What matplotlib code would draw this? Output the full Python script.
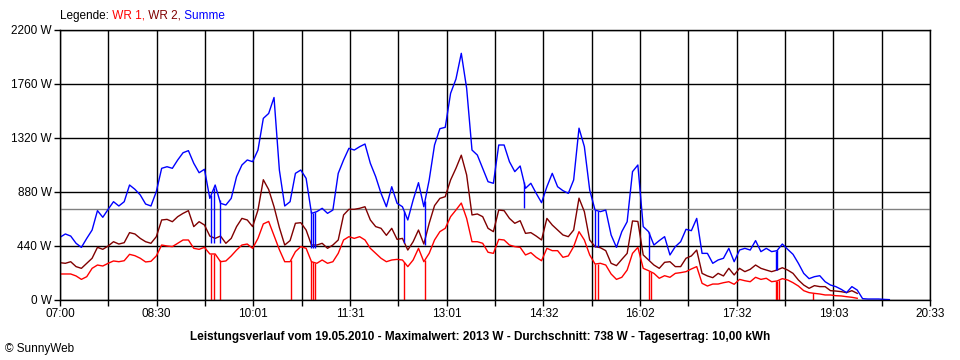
import numpy as np
import matplotlib
matplotlib.use("Agg")
import matplotlib.pyplot as plt

# 5-minute samples from 07:00, values in W
wr1 = [212, 212, 212, 196, 168, 190, 258, 285, 277, 299,
       318, 312, 320, 372, 361, 340, 310, 315, 359, 448,
       440, 435, 462, 489, 489, 421, 413, 429, 375, 375,
       312, 318, 359, 407,
       448, 456, 421, 502, 620, 640, 525, 410, 312, 312,
       394, 435, 421, 312, 299, 326, 299, 312, 380, 489,
       516, 502, 516, 489, 421, 380, 340, 312, 326, 331,
       326, 272, 326,
       421, 312, 380, 489, 557, 584, 679, 733, 790, 665,
       475, 475, 462, 389, 380, 494, 489, 448, 435, 429,
       367, 386, 348, 320, 421, 402, 402, 348, 359, 435,
       557, 489, 367,
       293, 299, 285, 212, 168, 185, 244, 380, 429, 258,
       239, 217, 177, 198, 185, 217, 223, 231, 253, 272,
       136, 114, 130, 130, 141, 149, 128, 168, 157, 149,
       185, 168, 177, 149,
       155, 174, 163, 141, 114, 76, 60, 54, 49, 41,
       41, 35, 33, 27, 22, 14,
       np.nan, np.nan, np.nan, np.nan, np.nan, np.nan]

wr2 = [304, 299, 312, 272, 258, 299, 340, 429, 413, 440,
       475, 456, 467, 549, 538, 502, 475, 462, 516, 652,
       657, 638, 679, 706, 728, 598, 638, 611, 521, 502,
       521, 462, 502, 598,
       665, 652, 598, 733, 980, 900, 760, 590, 448, 484,
       625, 630, 570, 448, 448, 462, 421, 448, 489, 693,
       739, 739, 747, 760, 652, 598, 584, 527, 584, 494,
       502, 407, 475,
       570, 456, 625, 769, 828, 842, 978, 1073, 1180, 1019,
       693, 701, 679, 584, 557, 733, 728, 665, 625, 646,
       543, 549, 521, 489, 665, 611, 570, 530, 516, 570,
       830, 720, 489,
       435, 426, 402, 299, 280, 331, 380, 644, 640, 367,
       326, 285, 258, 307, 312, 272, 272, 340, 359, 407,
       217, 196, 182, 217, 196, 258, 204, 258, 231, 250,
       285, 258, 244, 231,
       244, 263, 244, 217, 163, 122, 95, 117, 109, 109,
       76, 73, 68, 60, 76, 54,
       np.nan, np.nan, np.nan, np.nan, np.nan, np.nan]

summe = [511, 538, 521, 462, 429, 502, 570, 728, 674, 739,
         801, 766, 801, 937, 902, 856, 782, 766, 883, 1073,
         1086, 1073, 1141, 1200, 1217, 1114, 1037, 1065, 828, 937,
         788, 774, 828, 1005,
         1100, 1141, 1127, 1222, 1480, 1520, 1650, 1059, 766, 801,
         1032, 1059, 991, 706, 720, 747, 706, 733, 1032, 1141,
         1236, 1222, 1249, 1271, 1114, 1005, 869, 760, 923, 788,
         760, 652, 815,
         956, 760, 978, 1263, 1396, 1407, 1684, 1800, 2010, 1725,
         1222, 1181, 1073, 964, 951, 1263, 1263, 1127, 1046, 1092,
         910, 951, 869, 793, 923, 1032, 923, 891, 869, 978,
         1400, 1250, 896,
         733, 720, 733, 530, 429, 557, 638, 1046, 1100, 598,
         557, 448, 484, 516, 367, 435, 475, 576, 565, 665,
         380, 380, 299, 326, 340, 421, 312, 407, 421, 407,
         484, 394, 421, 394,
         402, 456, 413, 372, 299, 217, 174, 190, 198, 149,
         122, 109, 87, 60, 109, 81, 11, 8, 8, 8,
         5, 3]

# short outages of WR 1 (minutes after 07:00)
wr1_drop_t = [141.4, 143.9, 149.2, 215.9, 234.6, 236.7, 238.3, 321.8, 341.1,
              500.2, 502.5, 550.1, 552.0, 668.8, 670.3, 671.9, 704.0]
# dips of the sum at the same moments, with the level reached
sum_drop_t = [141.4, 143.9, 149.2, 234.6, 236.7, 238.3, 321.8, 341.1, 433.6,
              500.2, 502.5, 550.1, 668.8, 670.3]
sum_drop_low = [462, 462, 462, 425, 425, 425, 462, 448, 747,
                434, 434, 326, 244, 244]

average = 738
tick_labels = ["07:00", "08:30", "10:01", "11:31", "13:01",
               "14:32", "16:02", "17:32", "19:03", "20:33"]

plt.rcParams['font.family'] = ['Liberation Sans', 'DejaVu Sans']

minutes = np.arange(len(summe)) * 5
wr1 = np.array(wr1, dtype=float)
wr2 = np.array(wr2, dtype=float)
summe = np.array(summe, dtype=float)

fig = plt.figure(figsize=(9.6, 3.6), dpi=100)
ax = fig.add_axes([60 / 960, 60 / 360, 870 / 960, 270 / 360])

ax.axhline(average, color="#808080", lw=1, zorder=1.5)

ok = ~np.isnan(wr1)
ax.plot(minutes, wr1, color="#ff0000", lw=1, zorder=2)
ax.vlines(wr1_drop_t, 0, np.interp(wr1_drop_t, minutes[ok], wr1[ok]),
          color="#ff0000", lw=1, zorder=2)
ax.plot(minutes, wr2, color="#800000", lw=1, zorder=2.1)
ax.plot(minutes, summe, color="#0000ff", lw=1, zorder=2.2)
ax.vlines(sum_drop_t, sum_drop_low, np.interp(sum_drop_t, minutes, summe),
          color="#0000ff", lw=1, zorder=2.2)

ax.set_xlim(0, 813)
ax.set_ylim(0, 2200)
xt = np.linspace(0, 813, 19)
ax.set_xticks(xt)
ax.set_xticklabels([tick_labels[i // 2] if i % 2 == 0 else "" for i in range(19)])
yt = np.arange(0, 2201, 440)
ax.set_yticks(yt)
ax.set_yticklabels([f"{v} W" for v in yt])
ax.grid(True, color="black", lw=1)
ax.set_axisbelow(True)
ax.tick_params(direction="out", length=4, width=1, colors="black",
               labelsize=8.5, pad=2)
for s in ax.spines.values():
    s.set_color("black")
    s.set_linewidth(1)

# legend line at the top, coloured pieces
t0 = fig.text(60 / 960, 1 - 16 / 360, "Legende:", color="black",
              fontsize=8.5, va="center")
prev = t0
for txt, col in [(" WR 1,", "#ff0000"), (" WR 2,", "#800000"), (" Summe", "#0000ff")]:
    prev = ax.annotate(txt, xy=(1, 0), xycoords=prev, va="bottom",
                       color=col, fontsize=8.5)

fig.text(0.5, 1 - 337 / 360,
         "Leistungsverlauf vom 19.05.2010 - Maximalwert: 2013 W - "
         "Durchschnitt: 738 W - Tagesertrag: 10,00 kWh",
         ha="center", va="center", fontsize=8.5, fontweight="bold")
fig.text(5 / 960, 1 - 349 / 360, "© SunnyWeb", fontsize=8.5, va="center")

fig.savefig("out.png", dpi=100, facecolor="white")
